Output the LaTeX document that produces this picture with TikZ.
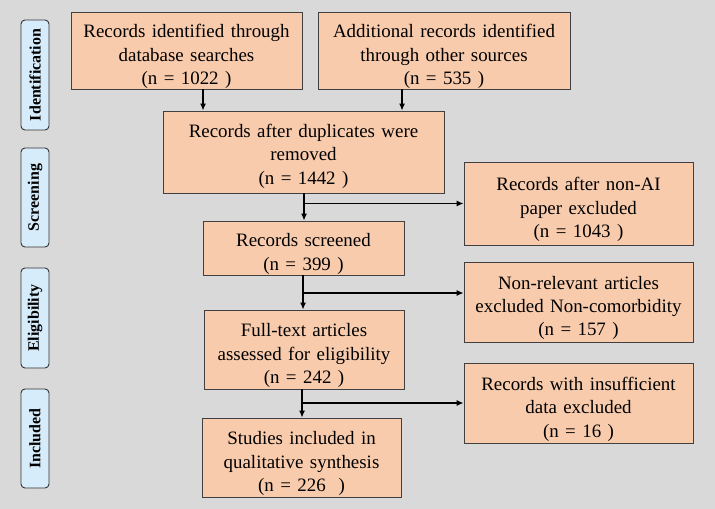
\documentclass[tikz,border=0pt]{standalone}
\usepackage{fontspec}
\setmainfont{Liberation Serif}[WordSpace=1.35]
\usetikzlibrary{arrows.meta}
\definecolor{bgc}{HTML}{D9D9D9}
\definecolor{peach}{HTML}{F8CBAD}
\definecolor{sideblue}{HTML}{D6ECFA}
\tikzset{
  box/.style={draw=black!75, fill=peach, line width=0.9bp, inner sep=0pt},
  txt/.style={align=center, inner sep=0pt, font=\fontsize{19}{23.5}\selectfont},
  sidebox/.style={draw=black!80, fill=sideblue, rounded corners=4bp, rotate=90,
    minimum height=28bp, inner sep=0pt, line width=0.9bp,
    font=\fontsize{16}{18}\selectfont\bfseries},
  arr/.style={-{Latex[length=7bp,width=6bp]}, line width=1.2bp, black},
}
\begin{document}
\begin{tikzpicture}[x=1bp,y=-1bp]
\fill[bgc] (0,0) rectangle (715,509);
\useasboundingbox (0,0) rectangle (715,509);

% side labels
\node[sidebox, minimum width=110bp] (s1) at (35,75) {Identification};
\node[sidebox, minimum width=99bp] (s2) at (35,197.5) {Screening};
\node[sidebox, minimum width=100bp] (s3) at (35,318) {Eligibility};
\node[sidebox, minimum width=99bp] (s4) at (35,438.5) {Included};

% boxes
\node[box, minimum width=231bp, minimum height=77bp] (A) at (186.5,50.5) {};
\node[box, minimum width=252bp, minimum height=77bp] (B) at (444,50.5) {};
\node[box, minimum width=281bp, minimum height=82bp] (C) at (303.5,152) {};
\node[box, minimum width=229bp, minimum height=83bp] (D) at (578.5,203.5) {};
\node[box, minimum width=201bp, minimum height=54bp] (E) at (303.5,248) {};
\node[box, minimum width=229bp, minimum height=80bp] (F) at (578.5,302) {};
\node[box, minimum width=200bp, minimum height=79bp] (G) at (304,349.5) {};
\node[box, minimum width=229bp, minimum height=80bp] (H) at (578.5,403) {};
\node[box, minimum width=199bp, minimum height=79bp] (I) at (301.5,457.5) {};

% box texts
\node[txt] (At) at ([yshift=-6bp]A.center) {Records identified through\\database searches\\(n = 1022 )};
\node[txt] (Bt) at ([yshift=-6bp]B.center) {Additional records identified\\through other sources\\(n = 535 )};
\node[txt] (Ct) at ([yshift=-4bp]C.center) {Records after duplicates were\\removed\\(n = 1442 )};
\node[txt] (Dt) at ([yshift=-6bp]D.center) {Records after non-AI\\paper excluded\\(n = 1043 )};
\node[txt] (Et) at ([yshift=-6bp]E.center) {Records screened\\(n = 399 )};
\node[txt] (Ft) at ([yshift=-6bp]F.center) {Non-relevant articles\\excluded Non-comorbidity\\(n = 157 )};
\node[txt] (Gt) at ([yshift=-6bp]G.center) {Full-text articles\\assessed for eligibility\\(n = 242 )};
\node[txt] (Ht) at ([yshift=-6bp]H.center) {Records with insufficient\\data excluded\\(n = 16 )};
\node[txt] (It) at ([yshift=-6bp]I.center) {Studies included in\\qualitative synthesis\\(n = 226\ \ )};

% connector guide coordinates
\coordinate (xa) at (203,0);
\coordinate (xb) at (402,0);
\coordinate (xc) at (304,0);
\coordinate (xe) at (303,0);
\coordinate (xg) at (302,0);
\coordinate (ye) at (0,293);

% connectors
\draw[arr] (A.south -| xa) -- (C.north -| xa);
\draw[arr] (B.south -| xb) -- (C.north -| xb);
\draw[arr] (C.south -| xc) -- (E.north -| xc);
\draw[arr] (D.west -| xc) -- (D.west);
\draw[arr] (E.south -| xe) -- (G.north -| xe);
\draw[arr] (xe |- ye) -- (F.west |- ye);
\draw[arr] (G.south -| xg) -- (I.north -| xg);
\draw[arr] (H.west -| xg) -- (H.west);
\end{tikzpicture}
\end{document}
